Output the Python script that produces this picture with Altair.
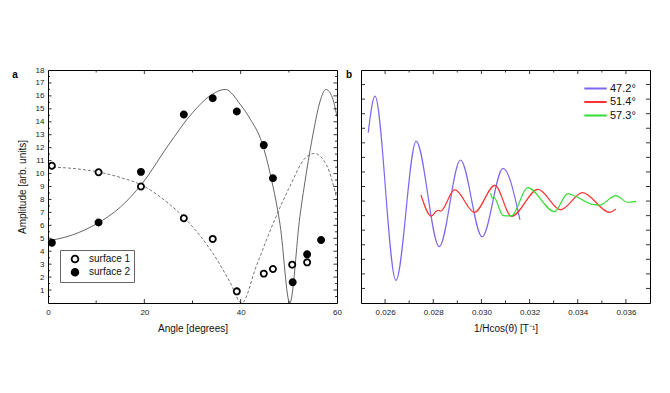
import altair as alt
import pandas as pd

# ---------------- data: panel a ----------------
surf1_angle = [0.8, 10.5, 19.3, 28.2, 34.2, 39.2, 44.8, 46.7, 50.7, 53.8]
surf1_amp = [10.6, 10.1, 9.0, 6.55, 4.95, 0.9, 2.27, 2.63, 2.96, 3.14]
surf2_angle = [0.8, 10.5, 19.3, 28.2, 34.2, 39.2, 44.8, 46.7, 50.8, 53.8, 56.7]
surf2_amp = [4.66, 6.22, 10.13, 14.56, 15.82, 14.79, 12.2, 9.64, 1.6, 3.76, 4.87]

fit1_angle = [0, 5, 10, 15, 19.5, 25, 28, 30, 33, 35, 37.8, 40.2, 43.3, 46.8, 50.2, 53.4, 55.3, 57.9, 59.6, 60]
fit1_amp = [10.5, 10.4, 10.15, 9.7, 9.1, 7.7, 6.7, 5.9, 4.5, 3.4, 1.6, 0.0, 2.9, 6.2, 9.0, 11.2, 11.55, 10.6, 8.6, 8.0]

fit2_angle = [0, 5, 10, 15, 19.5, 25, 30, 34, 36.8, 40, 42, 44.4, 46.3, 48.2, 50.2, 52.3, 53.7, 55.1, 56.5, 57.7, 59, 60]
fit2_amp = [4.8, 5.25, 6.1, 7.4, 9.2, 12.2, 14.7, 16.1, 16.5, 15.3, 14.2, 12.4, 9.7, 6.0, 0.0, 6.7, 10.2, 13.2, 15.6, 16.5, 15.9, 14.4]

series_names = ["surface 1", "surface 2"]

# ---------------- data: panel b ----------------
b_labels = ["47.2°", "51.4°", "57.3°"]
b_colors = ["#7b68ee", "#ff3030", "#33dd33"]

b1_x = [0.02530, 0.02558, 0.02645, 0.02729, 0.02825, 0.02913, 0.03003, 0.03090, 0.03160]
b1_y = [11.7, 14.2, 1.56, 11.1, 3.87, 9.82, 4.55, 9.25, 5.7]

b2_x = [0.02749, 0.02792, 0.02812, 0.02822, 0.02830, 0.02889, 0.02971, 0.03056, 0.03125,
        0.03235, 0.03329, 0.03420, 0.03532, 0.03558]
b2_y = [7.42, 5.97, 6.30, 6.37, 6.30, 7.78, 6.22, 8.08, 5.95, 7.80, 6.40, 7.58, 6.22, 6.45]

b3_x = [0.03038, 0.03046, 0.03052, 0.03090, 0.03125, 0.03192, 0.03303, 0.03358, 0.03465,
        0.03490, 0.03558, 0.03607, 0.03642]
b3_y = [7.55, 7.20, 7.25, 6.00, 5.98, 7.92, 6.28, 7.50, 6.75, 6.72, 7.38, 6.92, 6.98]

# tick positions
a_xticks_major = [20, 40]
a_xticks_minor = [10, 30, 50]
a_yticks_major = list(range(1, 18))
a_yticks_minor = [v + 0.5 for v in range(0, 18)]
a_ylabels = list(range(1, 19))
a_xlabels = [0, 20, 40, 60]

b_xticks_major = [0.026, 0.028, 0.030, 0.032, 0.034, 0.036]
b_xticks_minor = [0.027, 0.029, 0.031, 0.033, 0.035]
b_yticks = list(range(1, 16))

W, H = 289, 233
FONT = "Liberation Sans"


def tick_layers(values, length, axis_dir, enc):
    """Inward tick marks on both opposite sides of the frame."""
    df = pd.DataFrame({"v": values})
    base = alt.Chart(df).mark_rule(color="black", strokeWidth=0.8)
    if axis_dir == "x":
        return [
            base.encode(x=enc("v"), y=alt.value(H), y2=alt.value(H - length)),
            base.encode(x=enc("v"), y=alt.value(0), y2=alt.value(length)),
        ]
    return [
        base.encode(y=enc("v"), x=alt.value(0), x2=alt.value(length)),
        base.encode(y=enc("v"), x=alt.value(W), x2=alt.value(W - length)),
    ]


# ---------------- panel a ----------------
a_xscale = alt.Scale(domain=[0, 60], nice=False, zero=False)
a_yscale = alt.Scale(domain=[0, 18], nice=False, zero=False)
a_xaxis = alt.Axis(values=a_xlabels, ticks=False, domain=False, grid=False,
                   labelFontSize=8, labelPadding=5, labelFlush=False,
                   title="Angle [degrees]", titleFontSize=10, titlePadding=7,
                   titleFontWeight="normal")
a_yaxis = alt.Axis(values=a_ylabels, ticks=False, domain=False, grid=False,
                   labelFontSize=8, labelPadding=4, labelFlush=False,
                   title="Amplitude [arb. units]", titleFontSize=10,
                   titleFontWeight="normal", titlePadding=8)


def ax(f):
    return alt.X(f"{f}:Q", scale=a_xscale, axis=a_xaxis, title="Angle [degrees]")


def ay(f):
    return alt.Y(f"{f}:Q", scale=a_yscale, axis=a_yaxis, title="Amplitude [arb. units]")


fit1_df = pd.DataFrame({"angle": fit1_angle, "amp": fit1_amp})
fit2_df = pd.DataFrame({"angle": fit2_angle, "amp": fit2_amp})
pts_df = pd.concat([
    pd.DataFrame({"angle": surf1_angle, "amp": surf1_amp, "series": series_names[0]}),
    pd.DataFrame({"angle": surf2_angle, "amp": surf2_amp, "series": series_names[1]}),
])

dashed = alt.Chart(fit1_df).mark_line(
    color="#666", strokeWidth=0.9, strokeDash=[3, 2], interpolate="monotone"
).encode(x=ax("angle"), y=ay("amp"), order="angle:Q")

solid = alt.Chart(fit2_df).mark_line(
    color="#555", strokeWidth=0.9, interpolate="monotone"
).encode(x=ax("angle"), y=ay("amp"), order="angle:Q")

points = alt.Chart(pts_df).mark_point(
    shape="circle", filled=True, size=38, stroke="black", strokeWidth=1.8, opacity=1
).encode(
    x=ax("angle"), y=ay("amp"),
    fill=alt.Fill("series:N", scale=alt.Scale(domain=series_names, range=["white", "black"]),
                  legend=alt.Legend(title=None, orient="none", legendX=12, legendY=180,
                                    strokeColor="#666", padding=3, labelFontSize=10,
                                    labelFont=FONT, labelColor="#111",
                                    symbolSize=45, symbolStrokeColor="black",
                                    symbolStrokeWidth=1.8, symbolOffset=7,
                                    labelOffset=9, rowPadding=1.3, clipHeight=12,
                                    labelLimit=200, columnPadding=6,
                                    fillColor="white")),
)

label_a = alt.Chart(pd.DataFrame({"t": ["a"]})).mark_text(
    fontWeight="bold", fontSize=10, font=FONT, align="center", baseline="middle"
).encode(text="t:N", x=alt.value(-33), y=alt.value(5))

a_layers = [dashed, solid, points]
a_layers += tick_layers(a_xticks_major, 4, "x", ax)
a_layers += tick_layers(a_xticks_minor, 2.5, "x", ax)
a_layers += tick_layers(a_yticks_major, 3.5, "y", ay)
a_layers += tick_layers(a_yticks_minor, 2, "y", ay)
a_layers += [label_a]

panel_a = alt.layer(*a_layers).properties(width=W, height=H)

# ---------------- panel b ----------------
b_xscale = alt.Scale(domain=[0.025, 0.037], nice=False, zero=False)
b_yscale = alt.Scale(domain=[0, 16], nice=False, zero=False)
b_xaxis = alt.Axis(values=b_xticks_major, format=".3f", ticks=False, domain=False, grid=False,
                   labelFontSize=8, labelPadding=5, labelFlush=False,
                   title="1/Hcos(θ) [T⁻¹]", titleFontSize=10, titlePadding=7,
                   titleFontWeight="normal")


def bx(f):
    return alt.X(f"{f}:Q", scale=b_xscale, axis=b_xaxis, title="1/Hcos(θ) [T⁻¹]")


def by(f):
    return alt.Y(f"{f}:Q", scale=b_yscale, axis=None)


b_df = pd.concat([
    pd.DataFrame({"x": b1_x, "y": b1_y, "angle": b_labels[0]}),
    pd.DataFrame({"x": b2_x, "y": b2_y, "angle": b_labels[1]}),
    pd.DataFrame({"x": b3_x, "y": b3_y, "angle": b_labels[2]}),
])

b_lines = alt.Chart(b_df).mark_line(strokeWidth=1.2, interpolate="monotone").encode(
    x=bx("x"), y=by("y"),
    color=alt.Color("angle:N", scale=alt.Scale(domain=b_labels, range=b_colors),
                    legend=alt.Legend(title=None, orient="none", legendX=222, legendY=12,
                                      symbolType="stroke", symbolSize=500,
                                      symbolStrokeWidth=2, labelFontSize=11,
                                      labelFont=FONT, labelColor="#111",
                                      clipHeight=13, rowPadding=0.5, labelOffset=2,
                                      padding=0)),
    detail="angle:N",
)

label_b = alt.Chart(pd.DataFrame({"t": ["b"]})).mark_text(
    fontWeight="bold", fontSize=10, font=FONT, align="center", baseline="middle"
).encode(text="t:N", x=alt.value(-12), y=alt.value(5))

b_layers = [b_lines]
b_layers += tick_layers(b_xticks_major, 4, "x", bx)
b_layers += tick_layers(b_xticks_minor, 2.5, "x", bx)
b_layers += tick_layers(b_yticks, 4, "y", by)
b_layers += [label_b]

panel_b = alt.layer(*b_layers).properties(width=W, height=H)

chart = alt.hconcat(panel_a, panel_b, spacing=24, bounds="flush").resolve_scale(
    fill="independent", color="independent"
).resolve_legend(fill="independent", color="independent").properties(
    padding={"left": 3, "top": 57, "right": 5, "bottom": 5}
).configure(font=FONT).configure_view(
    stroke="black", strokeWidth=1
).configure_axis(
    labelFont=FONT, titleFont=FONT, labelColor="#222", titleColor="#111"
)

chart.save("out.html", embed_options={"renderer": "svg", "actions": False})
